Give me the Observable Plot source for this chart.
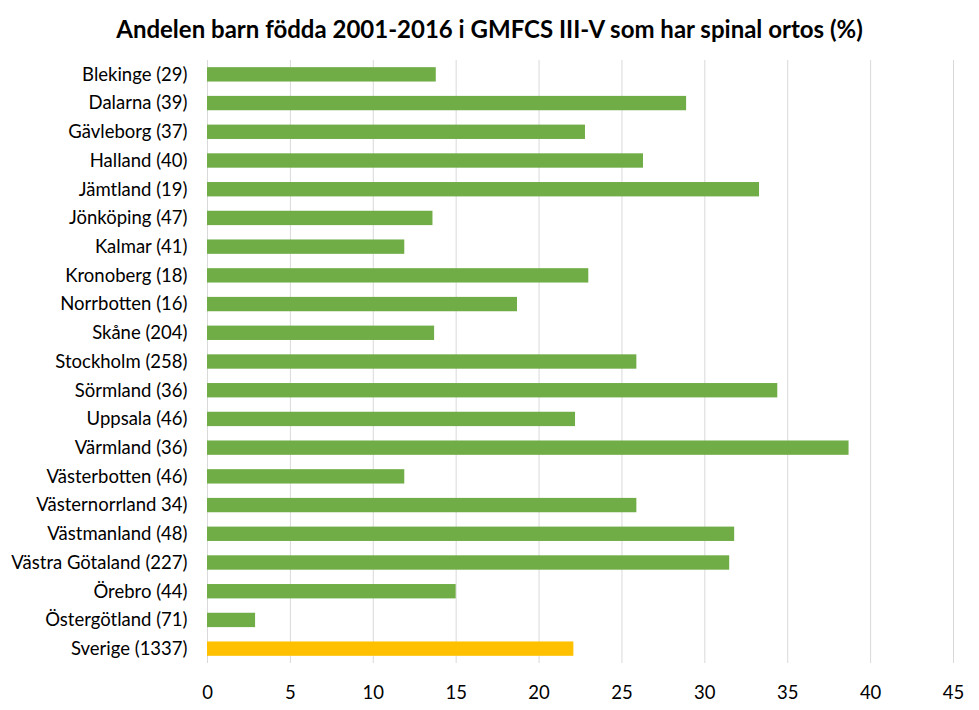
<!DOCTYPE html>
<html>
<head>
<meta charset="utf-8">
<script src="https://cdn.jsdelivr.net/npm/d3@7"></script>
<script src="https://cdn.jsdelivr.net/npm/@observablehq/plot@0.6"></script>
<style>
  body { margin: 0; background: #fff; font-family: Lato, "Open Sans", sans-serif; }
  #title { height: 50px; line-height: 57px; text-align: center; font-weight: bold; font-size: 24px; color: #000; width: 979px; }
  #chart svg { display: block; }
</style>
</head>
<body>
<div id="title">Andelen barn födda 2001-2016 i GMFCS III-V som har spinal ortos (%)</div>
<div id="chart"></div>
<script>
const regions = [
  "Blekinge (29)", "Dalarna (39)", "Gävleborg (37)", "Halland (40)", "Jämtland (19)",
  "Jönköping (47)", "Kalmar (41)", "Kronoberg (18)", "Norrbotten (16)", "Skåne (204)",
  "Stockholm (258)", "Sörmland (36)", "Uppsala (46)", "Värmland (36)", "Västerbotten (46)",
  "Västernorrland 34)", "Västmanland (48)", "Västra Götaland (227)", "Örebro (44)",
  "Östergötland (71)", "Sverige (1337)"
];
const values = [
  13.8, 28.9, 22.8, 26.3, 33.3,
  13.6, 11.9, 23.0, 18.7, 13.7,
  25.9, 34.4, 22.2, 38.7, 11.9,
  25.9, 31.8, 31.5, 15.0,
  2.9, 22.1
];
const xTicks = [0, 5, 10, 15, 20, 25, 30, 35, 40, 45];
const totalLabel = "Sverige (1337)";

const data = regions.map((r, i) => ({region: r, value: values[i], total: r === totalLabel}));

const chart = Plot.plot({
  width: 979,
  height: 660,
  marginLeft: 207,
  marginRight: 26,
  marginTop: 10,
  marginBottom: 47,
  style: { fontFamily: "Lato, 'Open Sans', sans-serif", fontSize: "18.5px", color: "#000", background: "#fff" },
  x: { domain: [0, 45], ticks: xTicks, tickSize: 0, tickPadding: 22, label: null },
  y: { domain: regions, paddingInner: 0.5, paddingOuter: 0.25, round: false, tickSize: 0, tickPadding: 20, label: null },
  marks: [
    Plot.gridX(xTicks, { stroke: "#d9d9d9", strokeOpacity: 1, strokeWidth: 1 }),
    Plot.barX(data, {
      x: "value",
      y: "region",
      fill: d => d.total ? "#FFC000" : "#70AD47"
    })
  ]
});
document.getElementById("chart").appendChild(chart);
</script>
</body>
</html>
